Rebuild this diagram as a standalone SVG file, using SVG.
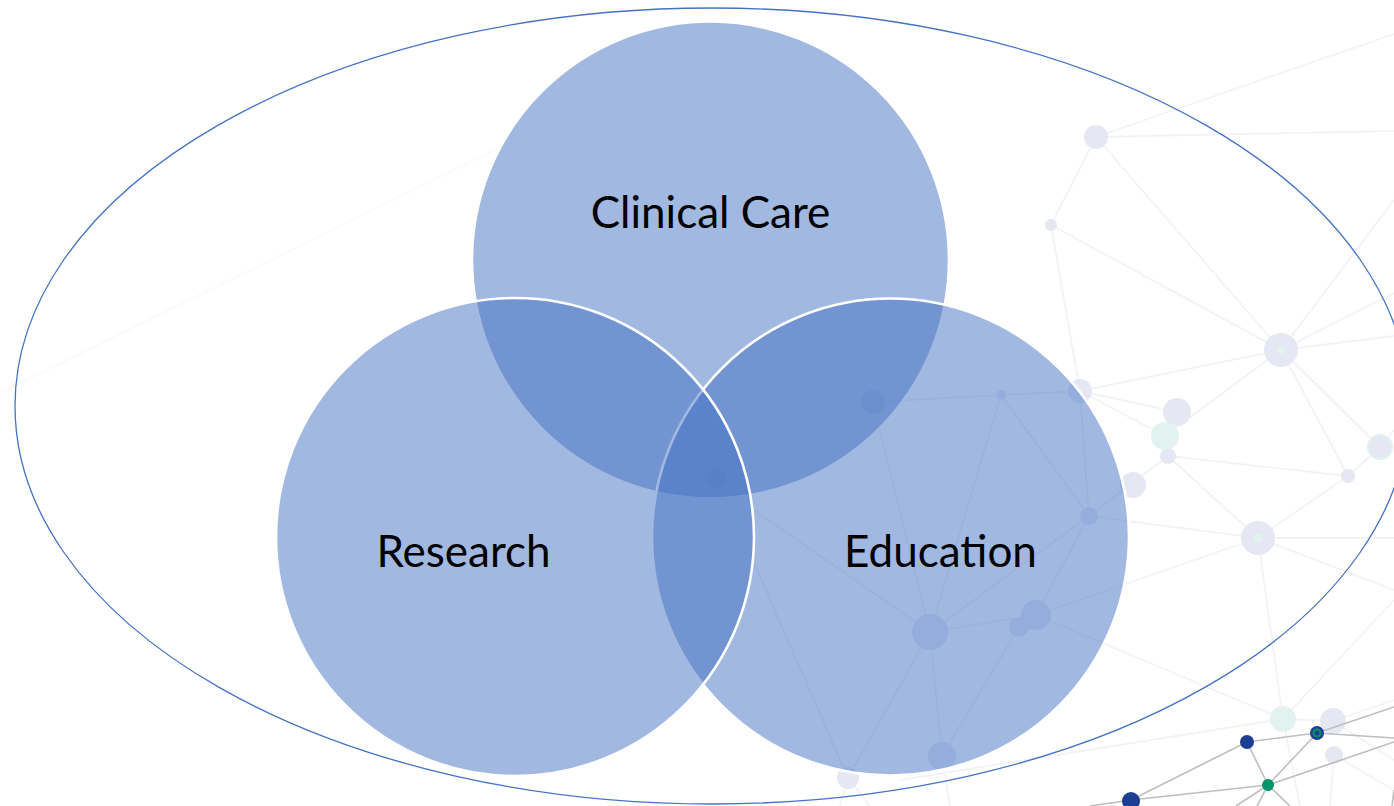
<svg xmlns="http://www.w3.org/2000/svg" width="1394" height="806" viewBox="0 0 1394 806">
<style>
.fl{stroke:#F3F3F5;stroke-width:1.8;fill:none}
.fn{fill:#E5E8F3}
.fg{fill:#E2F2EE}
.sl{stroke:#BEBEBE;stroke-width:1.6;fill:none}
.db{fill:#1C3F94}
.gr{fill:#00936A}
.venn{fill:#4472C4;fill-opacity:0.5;stroke:#FFFFFF;stroke-width:2.6}
.lbl{font-family:Lato,"Liberation Sans",sans-serif;font-size:44px;fill:#000000;text-anchor:middle}
</style>
<rect width="1394" height="806" fill="#FFFFFF"/>
<g id="background-network">
  <g id="faint-lines">
    <line class="fl" x1="0" y1="393" x2="560" y2="118" style="stroke:#FAFAFA"/>
    <line class="fl" x1="1096" y1="137" x2="1394" y2="131"/>
    <line class="fl" x1="1096" y1="137" x2="1394" y2="34"/>
    <line class="fl" x1="1096" y1="137" x2="1051" y2="225"/>
    <line class="fl" x1="1096" y1="137" x2="1281" y2="350"/>
    <line class="fl" x1="1051" y1="225" x2="1281" y2="350"/>
    <line class="fl" x1="1051" y1="225" x2="1080" y2="391"/>
    <line class="fl" x1="1281" y1="350" x2="1394" y2="293"/>
    <line class="fl" x1="1281" y1="350" x2="1394" y2="336"/>
    <line class="fl" x1="1281" y1="350" x2="1394" y2="200"/>
    <line class="fl" x1="1281" y1="350" x2="1080" y2="391"/>
    <line class="fl" x1="1281" y1="350" x2="1165" y2="436"/>
    <line class="fl" x1="1281" y1="350" x2="1348" y2="476"/>
    <line class="fl" x1="1281" y1="350" x2="1380" y2="447"/>
    <line class="fl" x1="1080" y1="391" x2="1177" y2="412"/>
    <line class="fl" x1="1080" y1="391" x2="1165" y2="436"/>
    <line class="fl" x1="1080" y1="391" x2="1001" y2="395"/>
    <line class="fl" x1="1080" y1="391" x2="1089" y2="516"/>
    <line class="fl" x1="1168" y1="456" x2="1348" y2="476"/>
    <line class="fl" x1="1168" y1="456" x2="1089" y2="516"/>
    <line class="fl" x1="1348" y1="476" x2="1380" y2="447"/>
    <line class="fl" x1="1380" y1="447" x2="1394" y2="430"/>
    <line class="fl" x1="1258" y1="538" x2="1348" y2="476"/>
    <line class="fl" x1="1258" y1="538" x2="1394" y2="538"/>
    <line class="fl" x1="1258" y1="538" x2="1394" y2="590"/>
    <line class="fl" x1="1258" y1="538" x2="1089" y2="516"/>
    <line class="fl" x1="1258" y1="538" x2="1168" y2="456"/>
    <line class="fl" x1="1258" y1="538" x2="1283" y2="719"/>
    <line class="fl" x1="1258" y1="538" x2="1036" y2="615"/>
    <line class="fl" x1="1036" y1="615" x2="1283" y2="719"/>
    <line class="fl" x1="1283" y1="719" x2="900" y2="780"/>
    <line class="fl" x1="1283" y1="719" x2="1333" y2="721"/>
    <line class="fl" x1="1333" y1="721" x2="1394" y2="700"/>
    <line class="fl" x1="1333" y1="721" x2="1394" y2="760"/>
    <line class="fl" x1="1334" y1="755" x2="1394" y2="790"/>
    <line class="fl" x1="1334" y1="755" x2="1330" y2="806"/>
    <line class="fl" x1="1283" y1="719" x2="1300" y2="806"/>
    <line class="fl" x1="1394" y1="600" x2="1283" y2="719"/>
    <line class="fl" x1="873" y1="402" x2="1001" y2="395"/>
    <line class="fl" x1="1001" y1="395" x2="930" y2="632"/>
    <line class="fl" x1="1001" y1="395" x2="1089" y2="516"/>
    <line class="fl" x1="873" y1="402" x2="930" y2="632"/>
    <line class="fl" x1="930" y1="632" x2="1036" y2="615"/>
    <line class="fl" x1="930" y1="632" x2="942" y2="756"/>
    <line class="fl" x1="930" y1="632" x2="848" y2="778"/>
    <line class="fl" x1="930" y1="632" x2="754" y2="510"/>
    <line class="fl" x1="1019" y1="627" x2="942" y2="756"/>
    <line class="fl" x1="1089" y1="516" x2="1036" y2="615"/>
    <line class="fl" x1="1089" y1="516" x2="930" y2="632"/>
    <line class="fl" x1="717" y1="478" x2="873" y2="402"/>
    <line class="fl" x1="717" y1="478" x2="848" y2="778"/>
    <line class="fl" x1="848" y1="778" x2="840" y2="806"/>
    <line class="fl" x1="848" y1="778" x2="870" y2="806"/>
    <line class="fl" x1="942" y1="756" x2="950" y2="806"/>
  </g>
  <g id="faint-nodes">
    <circle class="fn" cx="1096" cy="137" r="12"/>
    <circle class="fn" cx="1051" cy="225" r="6"/>
    <circle class="fn" cx="1281" cy="350" r="17"/>
    <circle class="fg" cx="1281" cy="350" r="4"/>
    <circle class="fn" cx="1080" cy="391" r="12"/>
    <circle class="fn" cx="1177" cy="412" r="14"/>
    <circle class="fn" cx="1168" cy="456" r="8"/>
    <circle class="fg" cx="1165" cy="436" r="14"/>
    <circle class="fn" cx="1133" cy="485" r="13"/>
    <circle class="fg" cx="1380" cy="447" r="13"/>
    <circle class="fn" cx="1380" cy="447" r="11"/>
    <circle class="fn" cx="1348" cy="476" r="7"/>
    <circle class="fn" cx="1258" cy="538" r="17"/>
    <circle class="fg" cx="1258" cy="538" r="4"/>
    <circle class="fg" cx="1283" cy="719" r="13"/>
    <circle class="fn" cx="1333" cy="721" r="13"/>
    <circle class="fn" cx="1334" cy="755" r="9"/>
    <circle class="fn" cx="848" cy="778" r="11"/>
    <circle class="fn" cx="873" cy="402" r="12"/>
    <circle class="fn" cx="1001" cy="395" r="5"/>
    <circle class="fn" cx="1089" cy="516" r="9"/>
    <circle class="fn" cx="930" cy="632" r="18"/>
    <circle class="fn" cx="1036" cy="615" r="15"/>
    <circle class="fn" cx="1019" cy="627" r="10"/>
    <circle class="fn" cx="942" cy="756" r="14"/>
    <circle class="fn" cx="717" cy="478" r="10"/>
  </g>
  <g id="strong-lines">
    <line class="sl" x1="1131" y1="800" x2="1247" y2="742"/>
    <line class="sl" x1="1131" y1="800" x2="1268" y2="785"/>
    <line class="sl" x1="1131" y1="800" x2="1090" y2="806"/>
    <line class="sl" x1="1247" y1="742" x2="1317" y2="733"/>
    <line class="sl" x1="1247" y1="742" x2="1268" y2="785"/>
    <line class="sl" x1="1268" y1="785" x2="1317" y2="733"/>
    <line class="sl" x1="1317" y1="733" x2="1394" y2="707"/>
    <line class="sl" x1="1317" y1="733" x2="1394" y2="738"/>
    <line class="sl" x1="1268" y1="785" x2="1394" y2="742"/>
    <line class="sl" x1="1268" y1="785" x2="1257" y2="806"/>
    <line class="sl" x1="1268" y1="785" x2="1290" y2="806"/>
    <line class="sl" x1="1268" y1="785" x2="1236" y2="806"/>
    <line class="sl" x1="1394" y1="790" x2="1392" y2="806"/>
  </g>
  <g id="strong-nodes">
    <circle class="db" cx="1247" cy="742" r="7"/>
    <circle class="db" cx="1317" cy="733" r="7"/>
    <circle cx="1317" cy="733" r="3.5" fill="none" stroke="#00936A" stroke-width="2"/>
    <circle class="gr" cx="1268" cy="785" r="6"/>
    <circle class="db" cx="1131" cy="801" r="9"/>
  </g>
</g>
<g id="outer-ellipse">
  <ellipse cx="712" cy="406" rx="697" ry="398" fill="none" stroke="#4472C4" stroke-width="1.3"/>
</g>
<g id="connectors"></g>
<g id="node-clinical-care">
  <circle class="venn" cx="710.5" cy="260" r="238.5"/>
  <text class="lbl" x="710.5" y="228">Clinical Care</text>
</g>
<g id="node-education">
  <circle class="venn" cx="890.5" cy="537" r="238.5"/>
  <text class="lbl" x="940.5" y="567">Education</text>
</g>
<g id="node-research">
  <circle class="venn" cx="515" cy="537" r="239"/>
  <text class="lbl" x="463.5" y="567">Research</text>
</g>
</svg>
